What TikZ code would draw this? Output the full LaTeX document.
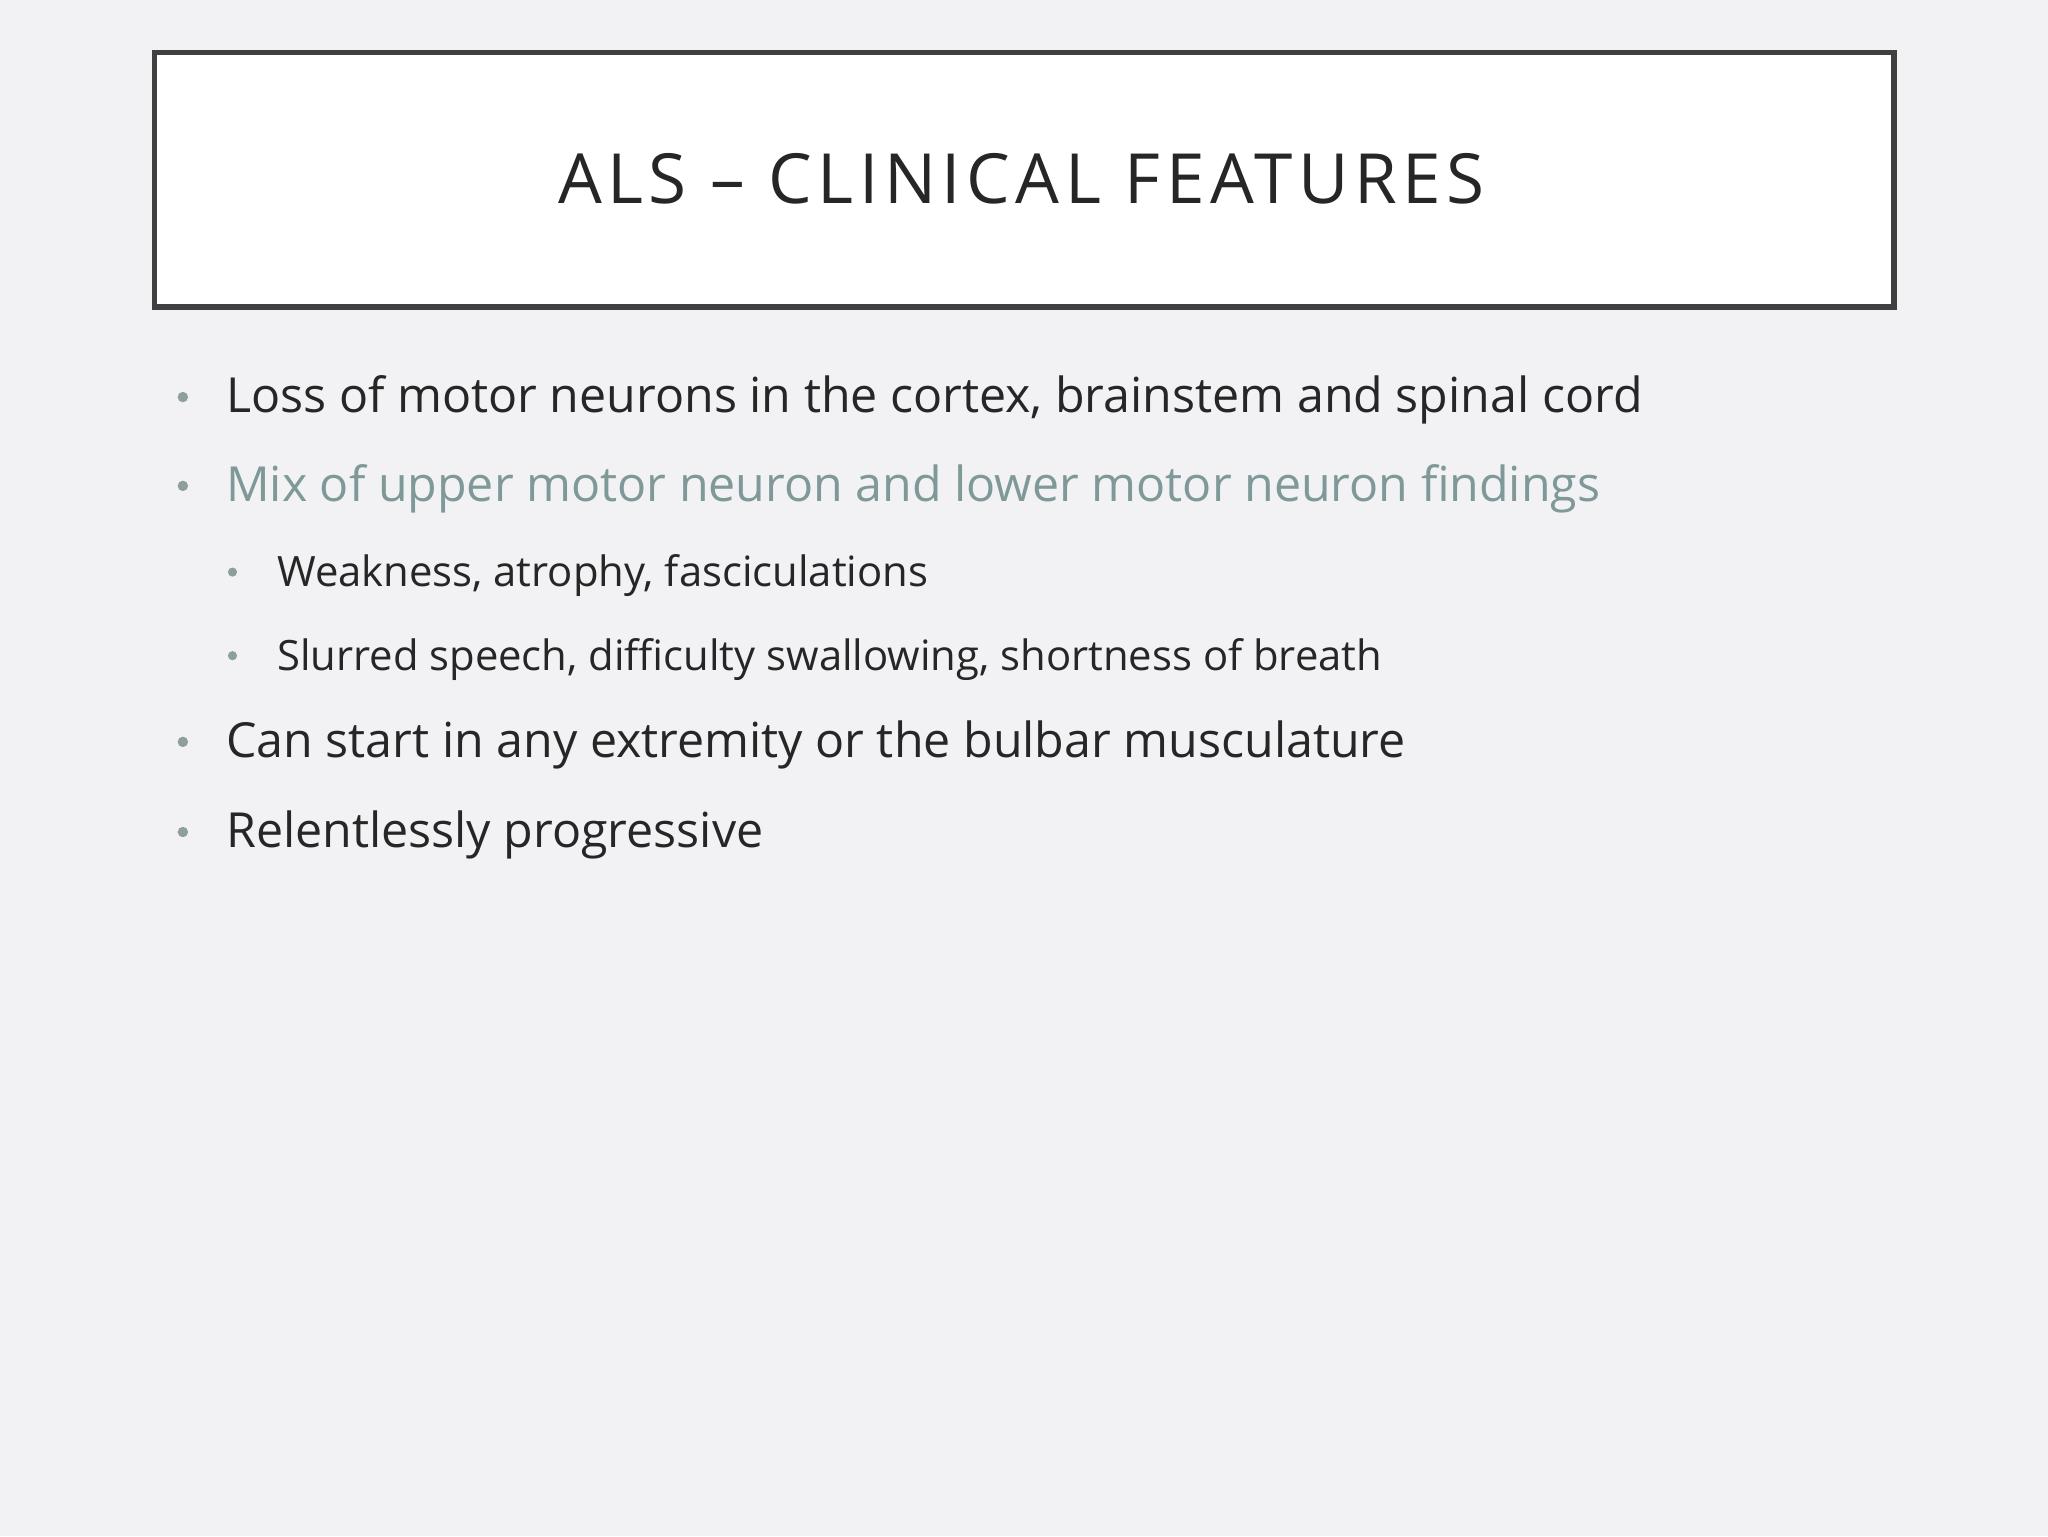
\documentclass[tikz,border=0pt]{standalone}
\usepackage{fontspec}
\setmainfont{Open Sans}
\newfontfamily\titlefont[LetterSpace=8]{Open Sans}
\begin{document}
\begin{tikzpicture}[x=1pt,y=-1pt,
  lvlone/.style={anchor=base west,inner sep=0pt,font=\fontsize{37}{44}\selectfont,text=txt},
  lvltwo/.style={anchor=base west,inner sep=0pt,font=\fontsize{32}{38}\selectfont,text=txt},
  dot/.style={circle,fill=bul,inner sep=0pt,minimum size=#1}]
\definecolor{bg}{HTML}{F2F2F4}
\definecolor{txt}{HTML}{262626}
\definecolor{bul}{HTML}{8E9E9E}
\definecolor{teal}{HTML}{7F9999}
\definecolor{frame}{HTML}{404040}
\fill[bg] (0,0) rectangle (1568,1176);
\useasboundingbox (0,0) rectangle (1568,1176);
\node[draw=frame,line width=4pt,fill=white,minimum width=1332pt,minimum height=195pt,inner sep=0pt] (title) at (784,137.5) {};
\node[anchor=base,inner sep=0pt,font=\titlefont\fontsize{53}{60}\selectfont,text=txt] (tt) at (782,156) {ALS – CLINICAL FEATURES};
\node[dot=8pt] (b1) at (140,304) {};
\node[lvlone] (t1) at (173,316) {Loss of motor neurons in the cortex, brainstem and spinal cord};
\node[dot=8pt] (b2) at (140,372) {};
\node[lvlone,text=teal] (t2) at (173,384) {Mix of upper motor neuron and lower motor neuron findings};
\node[dot=7pt] (b3) at (178,438) {};
\node[lvltwo] (t3) at (212,449) {Weakness, atrophy, fasciculations};
\node[dot=7pt] (b4) at (178,502) {};
\node[lvltwo] (t4) at (212,513) {Slurred speech, difficulty swallowing, shortness of breath};
\node[dot=8pt] (b5) at (140,568) {};
\node[lvlone] (t5) at (173,580) {Can start in any extremity or the bulbar musculature};
\node[dot=8pt] (b6) at (140,637) {};
\node[lvlone] (t6) at (173,649) {Relentlessly progressive};
\end{tikzpicture}
\end{document}
